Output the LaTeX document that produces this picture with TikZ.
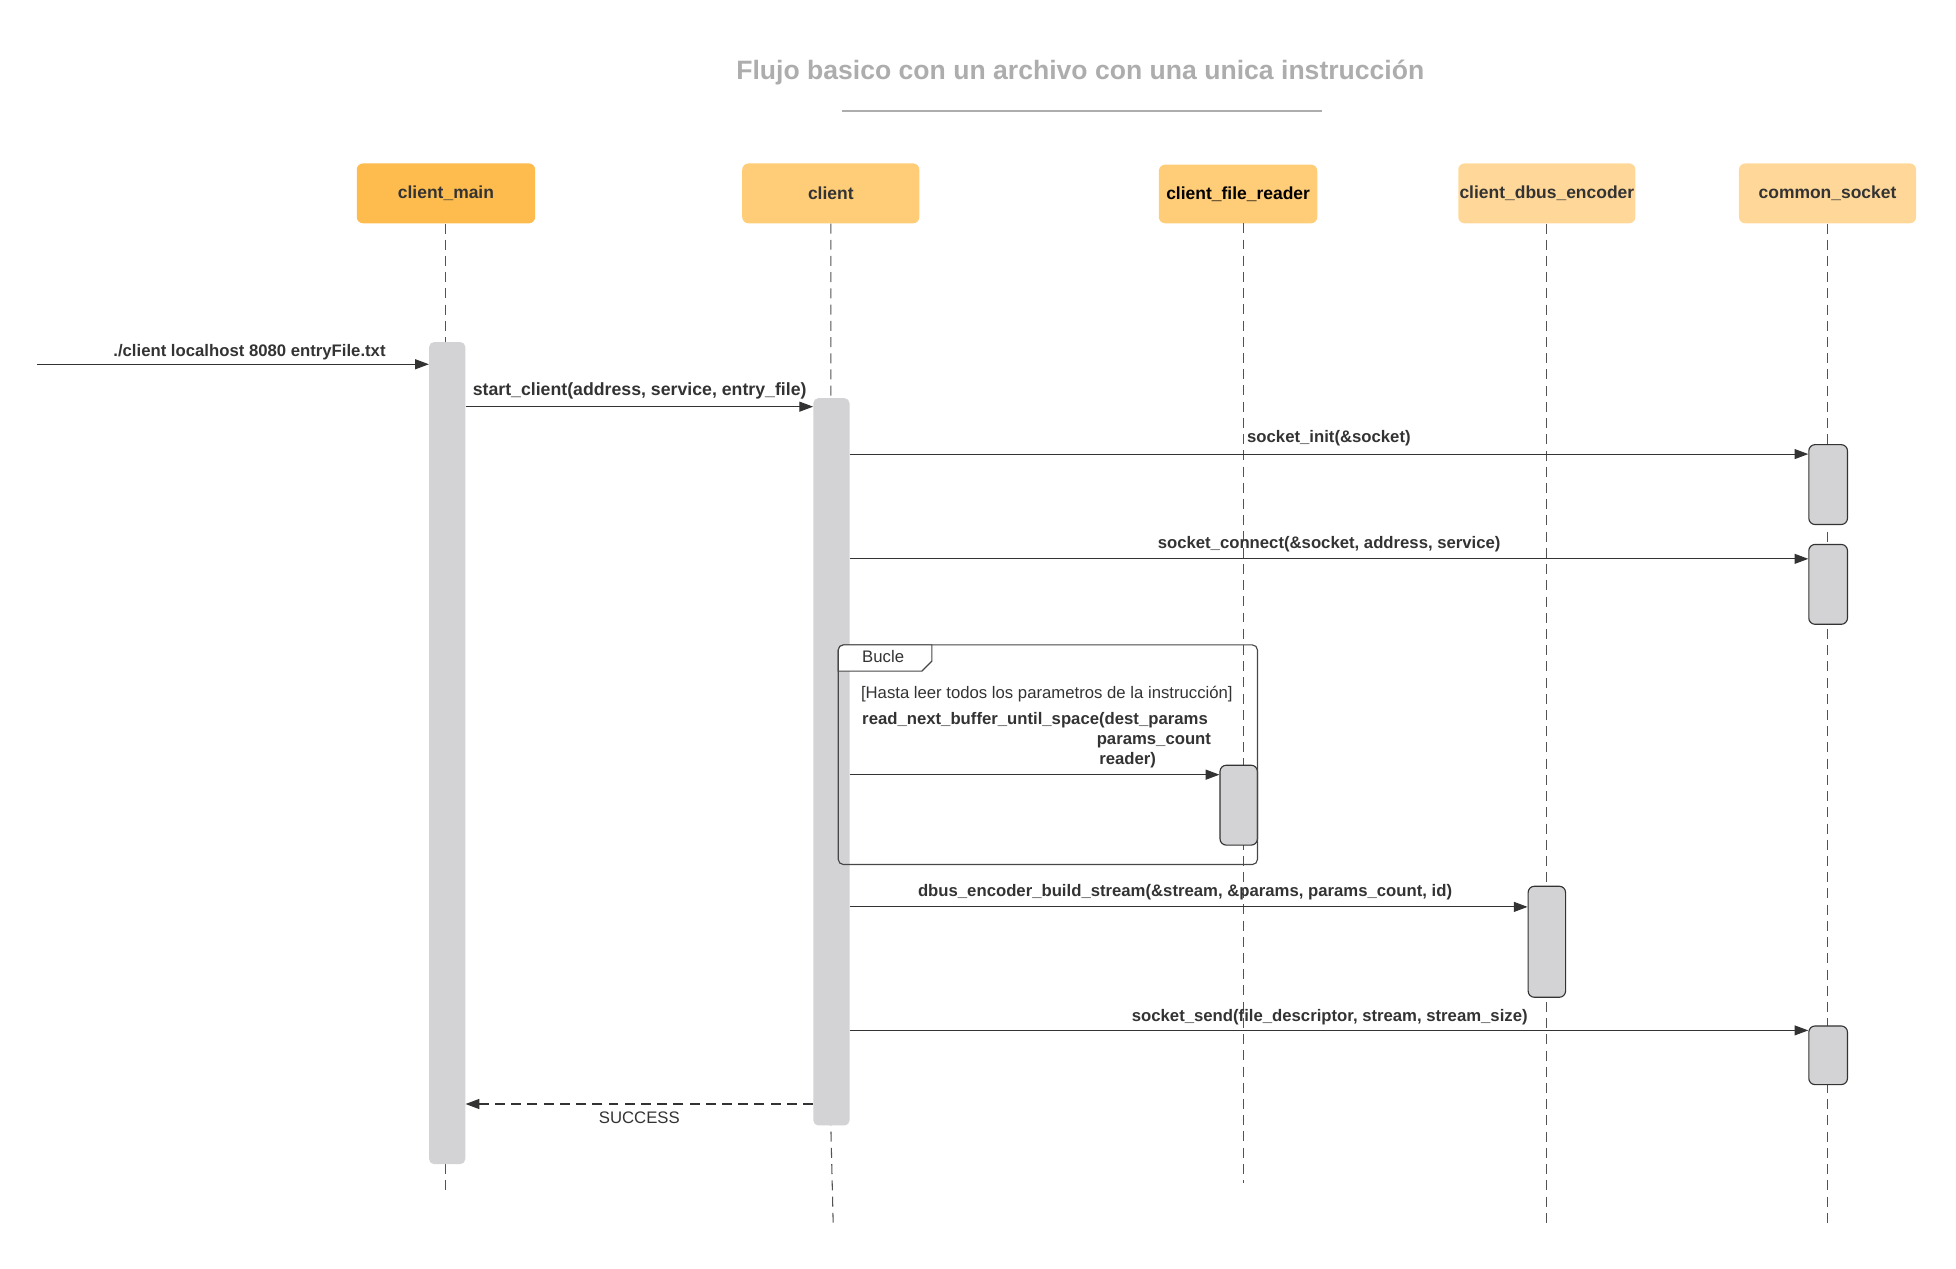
\documentclass[tikz,border=0pt]{standalone}
\usepackage{fontspec}
\setmainfont{Liberation Sans}
\usetikzlibrary{arrows.meta,calc}
\definecolor{hdrA}{HTML}{FFBC4E}
\definecolor{hdrB}{HTML}{FFCC78}
\definecolor{hdrC}{HTML}{FFD899}
\definecolor{barfill}{HTML}{D3D3D5}
\definecolor{ink}{HTML}{333333}
\definecolor{ttl}{HTML}{ADADAD}
\tikzset{
  hdr/.style={rounded corners=5pt, minimum height=48pt, inner sep=0pt, text=ink,
    font=\fontsize{14}{16}\selectfont\bfseries},
  bigbar/.style={fill=barfill, rounded corners=4pt, minimum width=29pt, inner sep=0pt, anchor=north},
  actbox/.style={fill=barfill, draw=ink, line width=0.9pt, rounded corners=5pt, minimum width=30pt, inner sep=0pt, anchor=north},
  life/.style={draw=ink!85, line width=0.85pt, dash pattern=on 8pt off 5pt},
  msg/.style={draw=ink, line width=0.85pt, -{Triangle[length=11pt,width=8pt]}},
  ret/.style={draw=ink, line width=0.95pt, dash pattern=on 8pt off 5pt, -{Triangle[length=11pt,width=8pt]}},
  lbl/.style={text=ink, inner sep=0pt, font=\fontsize{13.4}{16}\selectfont\bfseries},
  plain/.style={text=ink, inner sep=0pt, font=\fontsize{13.4}{16}\selectfont},
}
\begin{document}
\begin{tikzpicture}[x=1pt,y=-1pt]
\useasboundingbox (0,0) rectangle (1568,1016.5);
% title
\node[text=ttl, font=\fontsize{21.3}{24}\selectfont\bfseries, inner sep=0pt] (title) at (866,58.5) {Flujo basico con un archivo con una unica instrucción};
\coordinate (tl) at (675,89);
\coordinate (tr) at (1060,89);
\draw[ttl, line width=1.5pt] (tl) -- (tr);
% headers
\node[hdr, fill=hdrA, minimum width=143pt] (hmain) at (357.5,155) {client\_main};
\node[hdr, fill=hdrB, minimum width=142pt] (hcli) at (666,155) {client};
\node[hdr, fill=hdrB, minimum width=127pt, minimum height=47pt, text=black] (hfr) at (992.5,155.5) {client\_file\_reader};
\node[hdr, fill=hdrC, minimum width=142pt] (hdb) at (1240,155) {client\_dbus\_encoder};
\node[hdr, fill=hdrC, minimum width=142pt] (hso) at (1465,155) {common\_socket};
% lifeline ends
\coordinate (emain) at (357.5,958);
\coordinate (ecli) at (668,985);
\coordinate (efr) at (997,948);
\coordinate (edb) at (1240,982);
\coordinate (eso) at (1465,982);
\draw[life] (hmain.south) -- (emain);
\draw[life] (hcli.south) -- (666,902) -- (ecli);
\draw[life] (997,179) -- (efr);
\draw[life] (hdb.south) -- (edb);
\draw[life] (hso.south) -- (eso);
% activation bars
\node[bigbar, minimum height=659pt] (bmain) at (358.5,274) {};
\node[bigbar, minimum height=583pt] (bcli) at (666.5,319) {};
\node[actbox, minimum height=64pt, minimum width=31pt] (s1) at (1465.5,356) {};
\node[actbox, minimum height=64pt, minimum width=31pt] (s2) at (1465.5,436) {};
\node[actbox, minimum height=64pt] (fr1) at (993,613) {};
\node[actbox, minimum height=89pt] (db1) at (1240,710) {};
\node[actbox, minimum height=47pt, minimum width=31pt] (s3) at (1465.5,822) {};
% messages
\coordinate (ext) at (30,292);
\draw[msg] (ext) -- (ext -| bmain.west);
\node[lbl] (l1) at (200,282.5) {./client localhost 8080 entryFile.txt};
\coordinate (m2) at ([yshift=-7pt]bcli.north west);
\draw[msg] (bmain.east |- m2) -- (m2);
\node[lbl, font=\fontsize{14.2}{16}\selectfont\bfseries] (l2) at (512.8,313) {start\_client(address, service, entry\_file)};
\coordinate (m3) at ([yshift=-8pt]s1.north west);
\draw[msg] (bcli.east |- m3) -- (m3);
\node[lbl] (l3) at (1065.3,351.5) {socket\_init(\&socket)};
\coordinate (m4) at ([yshift=-12pt]s2.north west);
\draw[msg] (bcli.east |- m4) -- (m4);
\node[lbl] (l4) at (1065.5,436.5) {socket\_connect(\&socket, address, service)};
% loop frame
\draw[ink!90, line width=0.9pt, rounded corners=4pt] (672,517) rectangle (1008,693);
\draw[ink!90, line width=0.9pt, fill=white] (672,538) -- (672,521) [rounded corners=4pt] -- (672,517) [sharp corners] -- (747,517) -- (747,530) -- (739,538) -- cycle;
\node[plain, anchor=west] (tab) at (691,526) {Bucle};
\node[plain, anchor=west] (guard) at (690,556) {[Hasta leer todos los parametros de la instrucción]};
\node[lbl, anchor=north west, align=left, font=\fontsize{13.4}{16}\selectfont\bfseries] (l5) at (691,571) {read\_next\_buffer\_until\_space(dest\_params\\\hspace*{188pt}params\_count\\\hspace*{190pt}reader)};
\coordinate (m5) at ([yshift=-8pt]fr1.north west);
\draw[msg] (bcli.east |- m5) -- (m5);
% encoder
\coordinate (m6) at ([yshift=-17pt]db1.north west);
\draw[msg] (bcli.east |- m6) -- (m6);
\node[lbl] (l6) at (950,715.5) {dbus\_encoder\_build\_stream(\&stream, \&params, params\_count, id)};
% send
\coordinate (m7) at ([yshift=-4pt]s3.north west);
\draw[msg] (bcli.east |- m7) -- (m7);
\node[lbl] (l7) at (1066,815.5) {socket\_send(file\_descriptor, stream, stream\_size)};
% return
\coordinate (m8) at (bcli.west |- 0,885);
\draw[ret] (m8) -- (m8 -| bmain.east);
\node[plain] (l8) at (512.5,896) {SUCCESS};
\end{tikzpicture}
\end{document}
